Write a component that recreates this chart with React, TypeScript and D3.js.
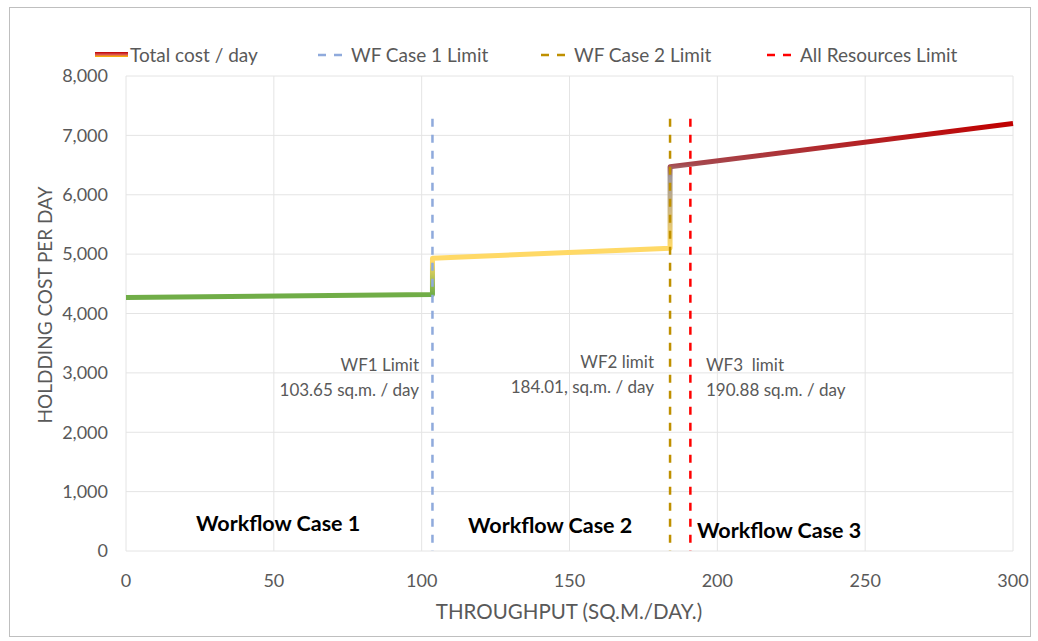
import React from "react";
import * as d3 from "d3";

const throughput = [0, 103.65, 103.65, 184.01, 184.01, 300];
const totalCost = [4270, 4320, 4930, 5100, 6470, 7200];

const limitNames = ["WF Case 1 Limit", "WF Case 2 Limit", "All Resources Limit"];
const limitValues = [103.65, 184.01, 190.88];
const limitColors = ["#8faadc", "#bf9000", "#ff0000"];
const limitTop = 7280;

const xTicks = [0, 50, 100, 150, 200, 250, 300];
const yTicks = [0, 1000, 2000, 3000, 4000, 5000, 6000, 7000, 8000];

const caseLabels = ["Workflow Case 1", "Workflow Case 2", "Workflow Case 3"];

const W = 1038;
const H = 641;
const FONT = "Lato, 'Open Sans', sans-serif";

export default function App() {
  const x = d3.scaleLinear().domain([0, 300]).range([126, 1013]);
  const y = d3.scaleLinear().domain([0, 8000]).range([551, 76]);

  const pts = throughput.map((t, i) => [t, totalCost[i]] as [number, number]);
  const line = d3
    .line<[number, number]>()
    .x((d) => x(d[0]))
    .y((d) => y(d[1]));

  const gTop = y(7200);
  const gBot = y(4270);
  const off = (v: number) => (gBot - y(v)) / (gBot - gTop);
  const stops: [number, string][] = [
    [4330, "#70ad47"],
    [4880, "#ffd966"],
    [5120, "#ffd966"],
    [6300, "#a09898"],
    [6520, "#a5474d"],
    [7200, "#c00000"],
  ];

  const fmt = d3.format(",");
  const tickColor = "#595959";

  return (
    <svg width={W} height={H} style={{ position: "absolute", left: 0, top: 0 }}>
      <rect x={0} y={0} width={W} height={H} fill="#fff" />
      <rect x={9.5} y={7.5} width={1021} height={629} fill="none" stroke="#bfbfbf" strokeWidth={1} />
      <defs>
        <linearGradient id="costGrad" gradientUnits="userSpaceOnUse" x1={0} x2={0} y1={gBot} y2={gTop}>
          {stops.map(([v, c], i) => (
            <stop key={i} offset={off(v)} stopColor={c} />
          ))}
        </linearGradient>
        <linearGradient id="legGrad" x1={0} x2={0} y1={0} y2={1}>
          <stop offset={0} stopColor="#c00000" />
          <stop offset={0.5} stopColor="#d9534f" />
          <stop offset={1} stopColor="#ffc000" />
        </linearGradient>
      </defs>

      {/* gridlines */}
      {yTicks.map((t) => (
        <line key={"gy" + t} x1={x(0)} x2={x(300)} y1={y(t)} y2={y(t)} stroke="#e4e4e4" strokeWidth={1} />
      ))}
      {xTicks.map((t) => (
        <line key={"gx" + t} x1={x(t)} x2={x(t)} y1={y(0)} y2={y(8000)} stroke="#e4e4e4" strokeWidth={1} />
      ))}

      {/* y tick labels */}
      {yTicks.map((t) => (
        <text key={"ty" + t} x={108} y={y(t)} dy="0.35em" textAnchor="end" fontFamily={FONT} fontSize={18} fill={tickColor}>
          {fmt(t)}
        </text>
      ))}
      {/* x tick labels */}
      {xTicks.map((t) => (
        <text key={"tx" + t} x={x(t)} y={581} dy="0.35em" textAnchor="middle" fontFamily={FONT} fontSize={18} fill={tickColor}>
          {t}
        </text>
      ))}

      {/* axis titles */}
      <text x={569} y={612} dy="0.35em" textAnchor="middle" fontFamily={FONT} fontSize={20.5} fill={tickColor}>
        THROUGHPUT (SQ.M./DAY.)
      </text>
      <text
        transform={`translate(45,${305}) rotate(-90)`}
        dy="0.35em"
        textAnchor="middle"
        fontFamily={FONT}
        fontSize={19}
        fill={tickColor}
      >
        HOLDDING COST PER DAY
      </text>

      {/* total cost line */}
      <path d={line(pts) || ""} fill="none" stroke="url(#costGrad)" strokeWidth={5} strokeLinejoin="round" />

      {/* limit lines */}
      {limitValues.map((v, i) => (
        <line
          key={"lim" + i}
          x1={x(v)}
          x2={x(v)}
          y1={y(limitTop)}
          y2={y(0)}
          stroke={limitColors[i]}
          strokeWidth={2.5}
          strokeDasharray="8 8"
        />
      ))}

      {/* annotations */}
      <text x={419} y={365} dy="0.35em" textAnchor="end" fontFamily={FONT} fontSize={17} fill={tickColor}>
        WF1 Limit
      </text>
      <text x={419} y={390} dy="0.35em" textAnchor="end" fontFamily={FONT} fontSize={17} fill={tickColor}>
        103.65 sq.m. / day
      </text>
      <text x={654} y={362} dy="0.35em" textAnchor="end" fontFamily={FONT} fontSize={17} fill={tickColor}>
        WF2 limit
      </text>
      <text x={654} y={387} dy="0.35em" textAnchor="end" fontFamily={FONT} fontSize={17} fill={tickColor}>
        184.01, sq.m. / day
      </text>
      <text x={706} y={365} dy="0.35em" textAnchor="start" fontFamily={FONT} fontSize={17} fill={tickColor} style={{ whiteSpace: "pre" }}>
        WF3  limit
      </text>
      <text x={706} y={390} dy="0.35em" textAnchor="start" fontFamily={FONT} fontSize={17} fill={tickColor}>
        190.88 sq.m. / day
      </text>

      {/* workflow case labels */}
      <text x={196} y={523} dy="0.35em" fontFamily={FONT} fontSize={21.5} fontWeight="bold" fill="#000">
        {caseLabels[0]}
      </text>
      <text x={468} y={525} dy="0.35em" fontFamily={FONT} fontSize={21.5} fontWeight="bold" fill="#000">
        {caseLabels[1]}
      </text>
      <text x={697} y={530} dy="0.35em" fontFamily={FONT} fontSize={21.5} fontWeight="bold" fill="#000">
        {caseLabels[2]}
      </text>

      {/* legend */}
      <rect x={95} y={52} width={33} height={5} fill="url(#legGrad)" />
      <text x={130} y={55} dy="0.35em" fontFamily={FONT} fontSize={19} fill={tickColor}>
        Total cost / day
      </text>
      {limitNames.map((n, i) => {
        const lx = [318, 541, 767][i];
        return (
          <g key={"leg" + i}>
            <line x1={lx} x2={lx + 30} y1={55} y2={55} stroke={limitColors[i]} strokeWidth={2.5} strokeDasharray="8 8" />
            <text x={lx + 33} y={55} dy="0.35em" fontFamily={FONT} fontSize={19} fill={tickColor}>
              {n}
            </text>
          </g>
        );
      })}
    </svg>
  );
}
